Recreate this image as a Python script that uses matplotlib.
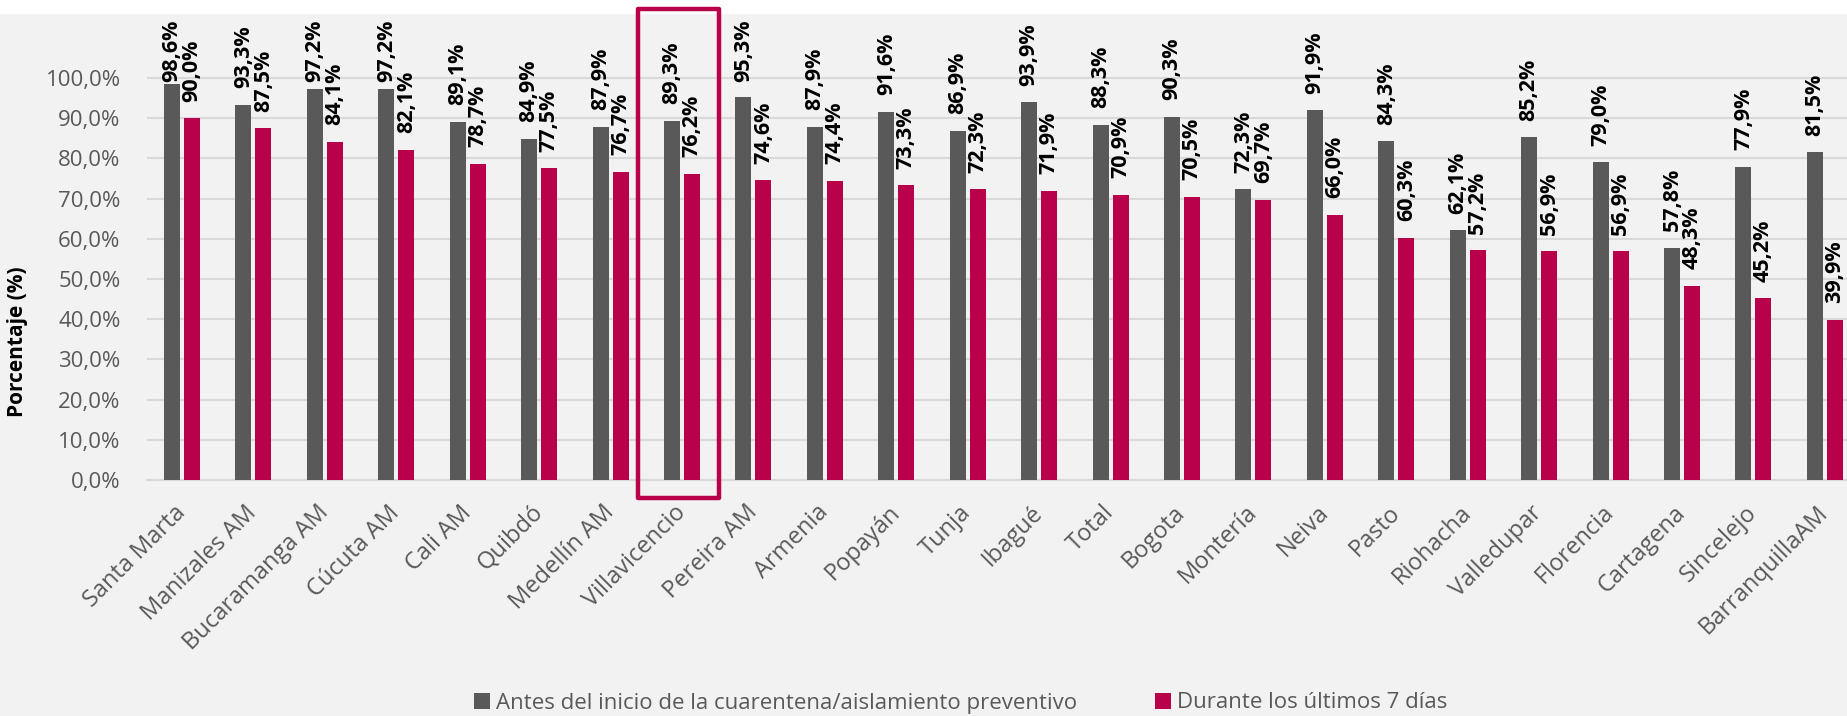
import matplotlib
matplotlib.use('Agg')
import matplotlib.pyplot as plt
from matplotlib.patches import Rectangle, Patch
from matplotlib.transforms import ScaledTranslation
import numpy as np

cities = ['Santa Marta', 'Manizales AM', 'Bucaramanga AM', 'Cúcuta AM', 'Cali AM',
          'Quibdó', 'Medellín AM', 'Villavicencio', 'Pereira AM', 'Armenia',
          'Popayán', 'Tunja', 'Ibagué', 'Total', 'Bogota', 'Montería', 'Neiva',
          'Pasto', 'Riohacha', 'Valledupar', 'Florencia', 'Cartagena', 'Sincelejo',
          'BarranquillaAM']
antes = [98.6, 93.3, 97.2, 97.2, 89.1, 84.9, 87.9, 89.3, 95.3, 87.9, 91.6, 86.9,
         93.9, 88.3, 90.3, 72.3, 91.9, 84.3, 62.1, 85.2, 79.0, 57.8, 77.9, 81.5]
durante = [90.0, 87.5, 84.1, 82.1, 78.7, 77.5, 76.7, 76.2, 74.6, 74.4, 73.3, 72.3,
           71.9, 70.9, 70.5, 69.7, 66.0, 60.3, 57.2, 56.9, 56.9, 48.3, 45.2, 39.9]
yticks = list(range(0, 101, 10))
legend_labels = ['Antes del inicio de la cuarentena/aislamiento preventivo',
                 'Durante los últimos 7 días']
highlight = 'Villavicencio'

GRAY = '#595959'
CRIMSON = '#B8004B'
BG = '#F2F2F2'

plt.rcParams['font.family'] = ['Open Sans', 'DejaVu Sans']

W, H = 1847, 716
fig = plt.figure(figsize=(W / 100, H / 100), dpi=100, facecolor='white')
# gray chart area below a thin white strip
fig.add_artist(Rectangle((0, 0), 1, 1 - 14 / H, transform=fig.transFigure,
                         facecolor=BG, edgecolor='none', zorder=-5))

ax = fig.add_axes([147 / W, (H - 480) / H, (W - 147) / W, (480 - 14) / H])
ax.set_facecolor('none')

x = np.arange(len(cities))
bw = 0.224
off = 0.14
ax.bar(x - off, antes, bw, color=GRAY, zorder=3)
ax.bar(x + off, durante, bw, color=CRIMSON, zorder=3)

# value labels, pushed above bars but kept inside the chart
for xi, a, d in zip(x, antes, durante):
    for xx, v in ((xi - off, a), (xi + off, d)):
        ax.text(xx, min(v + 4.1, 99.0), f'{v:.1f}%'.replace('.', ','),
                rotation=90, ha='center', va='bottom', fontsize=15.5,
                fontweight='bold', color='black', zorder=4)

ax.set_xlim(-0.49, 23.31)
ax.set_ylim(0, 115.9)
ax.set_yticks(yticks)
ax.set_yticklabels([f'{t:.1f}%'.replace('.', ',') for t in yticks])
ax.set_xticks(x)
ax.set_xticklabels(cities)
shift = ScaledTranslation(8 / 100, 0, fig.dpi_scale_trans)
for lab in ax.get_xticklabels():
    lab.set_rotation(45)
    lab.set_ha('right')
    lab.set_va('center')
    lab.set_rotation_mode('anchor')
    lab.set_transform(lab.get_transform() + shift)
ax.tick_params(axis='both', length=0, labelsize=16, labelcolor=GRAY)
ax.tick_params(axis='x', labelsize=17, pad=21)
ax.tick_params(axis='y', pad=19)
ax.grid(axis='y', color='#D9D9D9', linewidth=1.5, zorder=0)
for s in ['top', 'right', 'left']:
    ax.spines[s].set_visible(False)
ax.spines['bottom'].set_color('#D9D9D9')
ax.spines['bottom'].set_linewidth(1.5)

# highlight box around one city
hi = cities.index(highlight)
ax.add_patch(Rectangle((hi - 0.62, -4.5), 1.14, 121.7, fill=False,
                       edgecolor=CRIMSON, linewidth=3.2, joinstyle='round',
                       clip_on=False, zorder=5))

fig.text(18 / W, 1 - 342 / H, 'Porcentaje (%)', rotation=90, ha='center',
         va='center', fontsize=15, fontweight='bold', color='black')

handles = [Patch(facecolor=GRAY), Patch(facecolor=CRIMSON)]
fig.legend(handles, legend_labels, loc='center', bbox_to_anchor=(961 / W, 1 - 703 / H),
           ncol=2, frameon=False, fontsize=16, labelcolor=GRAY,
           handlelength=0.7, handleheight=0.7, handletextpad=0.3, columnspacing=3.5)

fig.savefig('out.png', dpi=100, facecolor=fig.get_facecolor())
